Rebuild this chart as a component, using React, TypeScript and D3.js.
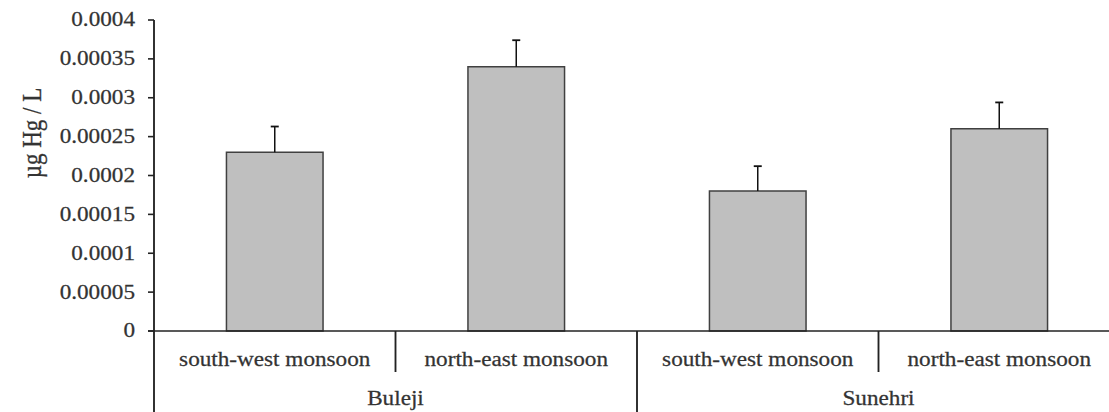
import React from 'react';
import * as d3 from 'd3';

// Data
const sites = ['Buleji', 'Sunehri'];
const seasons = ['south-west monsoon', 'north-east monsoon'];
const means = [
  [0.00023, 0.00034],
  [0.00018, 0.00026],
];
const errors = [
  [0.000033, 0.000034],
  [0.000032, 0.000034],
];
const yTicks = [0, 0.00005, 0.0001, 0.00015, 0.0002, 0.00025, 0.0003, 0.00035, 0.0004];
const yTickLabels = ['0', '0.00005', '0.0001', '0.00015', '0.0002', '0.00025', '0.0003', '0.00035', '0.0004'];

const width = 1109;
const height = 412;
// the reference is stretched a bit horizontally, so the chart is drawn narrower and scaled up
const stretch = 1.16;
const innerW = width / stretch;

const App = () => {
  const left = 154 / stretch;
  const right = 1120 / stretch;
  const y0 = 331;
  const yTop = 20;

  const x = d3.scaleBand().domain(sites).range([left, right]);
  const xs = d3
    .scaleBand()
    .domain(seasons)
    .range([0, x.bandwidth()])
    .paddingInner(0.6)
    .paddingOuter(0.3);
  const y = d3.scaleLinear().domain([0, 0.0004]).range([y0, yTop]);

  const font = "'Liberation Serif', 'Times New Roman', serif";
  const ink = '#333';
  const textProps = { fontFamily: font, fill: ink, stroke: ink, strokeWidth: 0.25 };
  const tickLen = 6 / stretch;
  const capHalf = 4 / stretch;

  return (
    <svg
      width={width}
      height={height}
      style={{ position: 'absolute', left: 0, top: 0, background: '#fff' }}
    >
      <g transform={`scale(${stretch},1)`}>
        <text
          transform={`translate(${32 / stretch},133) rotate(-90)`}
          textAnchor="middle"
          dominantBaseline="central"
          fontSize={23}
          {...textProps}
        >
          µg Hg / L
        </text>

        {/* bars */}
        {sites.map((s, i) =>
          seasons.map((k, j) => {
            const bx = x(s)! + xs(k)!;
            const v = means[i][j];
            const e = errors[i][j];
            const cx = bx + xs.bandwidth() / 2;
            return (
              <g key={s + k}>
                <rect
                  x={bx}
                  y={y(v)}
                  width={xs.bandwidth()}
                  height={y0 - y(v)}
                  fill="#bfbfbf"
                  stroke="#404040"
                  strokeWidth={1.5}
                  vectorEffect="non-scaling-stroke"
                />
                <line x1={cx} x2={cx} y1={y(v)} y2={y(v + e)} stroke="#111" strokeWidth={1.5} vectorEffect="non-scaling-stroke" />
                <line x1={cx - capHalf} x2={cx + capHalf} y1={y(v + e)} y2={y(v + e)} stroke="#111" strokeWidth={1.8} vectorEffect="non-scaling-stroke" />
              </g>
            );
          })
        )}

        {/* y axis */}
        <line x1={left} x2={left} y1={yTop} y2={height} stroke="#222" strokeWidth={1.6} />
        {yTicks.map((t, i) => (
          <g key={t}>
            <line x1={left - tickLen} x2={left} y1={y(t)} y2={y(t)} stroke="#222" strokeWidth={1.6} />
            <text
              x={left - 19 / stretch}
              y={y(t)}
              textAnchor="end"
              dominantBaseline="central"
              fontSize={20}
              {...textProps}
            >
              {yTickLabels[i]}
            </text>
          </g>
        ))}

        {/* x axis baseline */}
        <line x1={left - tickLen} x2={innerW} y1={y0} y2={y0} stroke="#222" strokeWidth={1.6} />

        {/* category separators and labels */}
        {sites.map((s, i) => (
          <g key={s}>
            {i > 0 && <line x1={x(s)} x2={x(s)} y1={y0} y2={height} stroke="#222" strokeWidth={1.6} />}
            <line
              x1={x(s)! + x.bandwidth() / 2}
              x2={x(s)! + x.bandwidth() / 2}
              y1={y0}
              y2={372}
              stroke="#222"
              strokeWidth={1.6}
            />
            {seasons.map((k, j) => (
              <text
                key={k}
                x={x(s)! + (j + 0.5) * (x.bandwidth() / 2)}
                y={366}
                textAnchor="middle"
                fontSize={20}
                {...textProps}
              >
                {k}
              </text>
            ))}
            <text
              x={x(s)! + x.bandwidth() / 2}
              y={405}
              textAnchor="middle"
              fontSize={20}
              {...textProps}
            >
              {s}
            </text>
          </g>
        ))}
      </g>
    </svg>
  );
};

export default App;
